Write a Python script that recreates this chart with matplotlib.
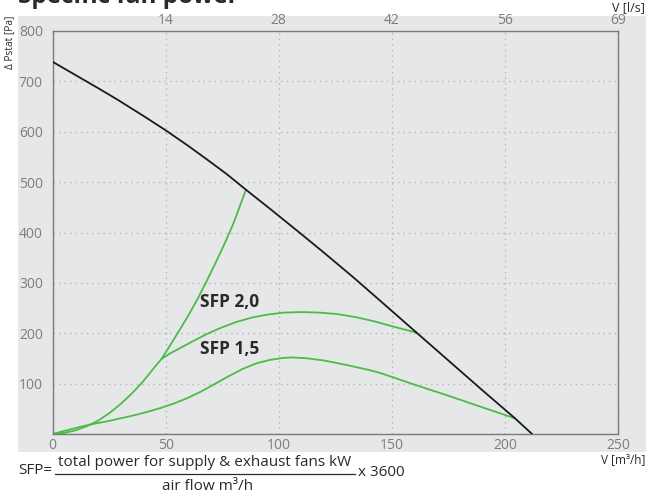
import matplotlib
matplotlib.use("Agg")
import matplotlib.pyplot as plt
from matplotlib.patches import Rectangle
from matplotlib.lines import Line2D

plt.rcParams['font.family'] = ['Open Sans', 'DejaVu Sans']

# ---- data ----
x_ticks = [0, 50, 100, 150, 200, 250]
y_ticks = [0, 100, 200, 300, 400, 500, 600, 700, 800]
top_labels = ["14", "28", "42", "56", "69"]

# fan curve (black)
fan_v = [0, 10, 20, 29, 40, 50, 60, 68, 77, 85.5, 97, 109.4, 120, 133, 145, 161, 175, 190, 204.5, 212]
fan_p = [739, 713, 687, 663, 632, 603, 572, 546, 516, 485, 444, 399, 360, 311, 264, 201, 146, 87, 31, 0]

# system curve (green, from origin to fan curve)
sys_v = [0, 5, 10, 15, 20, 25, 30, 35, 40, 45, 48.2, 52, 56, 60, 64, 68, 72, 76, 80, 85.5]
sys_p = [0, 2, 7, 15, 26, 41, 59, 80, 104, 132, 149, 176, 205, 235, 267, 302, 339, 377, 418, 485]

# SFP 2,0 curve
sfp20_v = [48.2, 52, 57, 62, 68, 74, 81, 88, 95, 102, 110, 118, 126, 134, 142, 150, 156, 161]
sfp20_p = [149, 160, 172, 184, 198, 210, 222, 231, 237, 241, 242, 241, 238, 232, 224, 214, 207, 201]

# SFP 1,5 curve
sfp15_v = [0, 6, 12, 18, 24, 30, 36, 42, 48, 54, 60, 66, 72, 78, 84, 90, 96, 102, 106, 112,
           120, 130, 140, 145, 160, 175, 190, 204.5]
sfp15_p = [0, 7, 14, 20, 25, 31, 37, 44, 52, 61, 72, 85, 100, 115, 129, 140, 147, 151, 152, 150.5,
           146, 137, 127, 121, 98, 76, 53, 31]

W, H = 646, 493
fig = plt.figure(figsize=(W / 100, H / 100), dpi=100)
bg = "#e6e7e9"
fig.patches.append(Rectangle((18 / W, 1 - 452 / H), (646 - 18) / W, (452 - 16) / H,
                             transform=fig.transFigure, facecolor=bg, edgecolor="none", zorder=-10))

left, right, top, bottom = 52.5, 618, 31, 434
ax = fig.add_axes([left / W, 1 - bottom / H, (right - left) / W, (bottom - top) / H])
ax.set_facecolor(bg)
ax.set_xlim(0, 250)
ax.set_ylim(0, 800)

green = "#4cbb47"
ax.plot(fan_v, fan_p, color="#1a1a1a", lw=1.3, zorder=3, solid_joinstyle="round")
ax.plot(sys_v, sys_p, color=green, lw=1.3, zorder=2, solid_joinstyle="round")
ax.plot(sfp20_v, sfp20_p, color=green, lw=1.3, zorder=2, solid_joinstyle="round")
ax.plot(sfp15_v, sfp15_p, color=green, lw=1.3, zorder=2, solid_joinstyle="round")

ax.set_xticks(x_ticks)
ax.set_yticks(y_ticks)
ax.set_yticklabels([("" if v == 0 else str(v)) for v in y_ticks])
tick_col = "#7d7d7d"
ax.tick_params(axis="y", length=0, labelsize=10, colors=tick_col, pad=7)
ax.tick_params(axis="x", length=0, labelsize=10, colors=tick_col, pad=3)
ax.grid(True, color="#b4b4b4", linestyle=(0, (1, 3)), lw=1)
for s in ax.spines.values():
    s.set_color("#7a7a7a")
    s.set_linewidth(1)

ax2 = ax.twiny()
ax2.set_xlim(0, 250)
ax2.set_xticks(x_ticks[1:])
ax2.set_xticklabels(top_labels)
ax2.tick_params(length=0, labelsize=10, colors=tick_col, pad=2)
for s in ax2.spines.values():
    s.set_visible(False)

ax.text(65, 262, "SFP 2,0", fontsize=12.5, fontweight="bold", color="#2a2a2a", va="center", ha="left")
ax.text(65, 168, "SFP 1,5", fontsize=12.5, fontweight="bold", color="#2a2a2a", va="center", ha="left")

def fx(px):
    return px / W

def fy(py):
    return 1 - py / H

txtc = "#2a2a2a"
fig.text(fx(18), fy(3), "Specific fan power", fontsize=17.5, fontweight="bold", color=txtc,
         ha="left", va="baseline")
fig.text(fx(10), fy(42), "Δ Pstat [Pa]", fontsize=7.3, rotation=90, color=txtc, ha="center", va="center")
fig.text(fx(645), fy(8), "V [l/s]", fontsize=9, color=txtc, ha="right", va="center")
fig.text(fx(645), fy(460), "V [m³/h]", fontsize=8.5, color=txtc, ha="right", va="center")

fig.text(fx(18), fy(471), "SFP=", fontsize=11, color=txtc, ha="left", va="center")
fig.text(fx(205), fy(462), "total power for supply & exhaust fans kW", fontsize=11, color=txtc,
         ha="center", va="center")
fig.lines.append(Line2D([fx(55), fx(355)], [fy(474), fy(474)], transform=fig.transFigure,
                        color=txtc, lw=0.9))
fig.text(fx(208), fy(486), "air flow m³/h", fontsize=11, color=txtc, ha="center", va="center")
fig.text(fx(358), fy(472), "x 3600", fontsize=11, color=txtc, ha="left", va="center")

fig.savefig("out.png", dpi=100)
